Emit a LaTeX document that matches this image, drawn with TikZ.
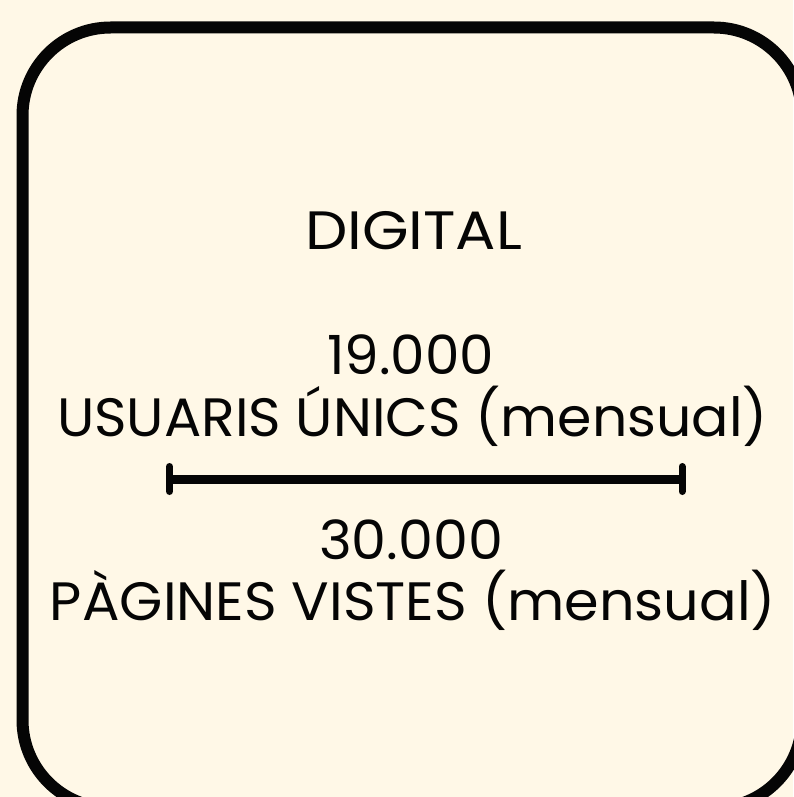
\documentclass[tikz,border=0pt]{standalone}
\usepackage{fontspec}
\setmainfont{Poppins}
\usepackage{graphicx}
\definecolor{bgcream}{HTML}{FFF8E7}
\definecolor{ink}{HTML}{050505}
\newlength\fitlen
\newcommand\fitw[2]{\settowidth\fitlen{#2}\pgfmathsetmacro\fitfac{#1/\the\fitlen}\scalebox{\fitfac}[1]{#2}}
\tikzset{
  label text/.style={anchor=base, inner sep=0pt, text=ink, font=\fontsize{54}{60}\selectfont},
  frame line/.style={draw=ink, line width=12pt, rounded corners=88pt},
  rule line/.style={draw=ink, line width=9pt},
  rule end/.style={draw=ink, line width=7pt, line cap=round}
}
\begin{document}
\begin{tikzpicture}[x=1pt,y=-1pt]
\useasboundingbox (0,0) rectangle (793,797);
\fill[bgcream] (0,0) rectangle (793,797);
\draw[frame line] (22.5,27.5) rectangle (802,808);
\node[label text] (title) at (413.5,249) {\fitw{217pt}{DIGITAL}};
\node[label text] (num1) at (410.5,374) {\fitw{167pt}{19.000}};
\node[label text] (lab1) at (412.5,436) {\fitw{711pt}{USUARIS ÚNICS (mensual)}};
\node[label text] (num2) at (411,559) {\fitw{184pt}{30.000}};
\node[label text] (lab2) at (413,620) {\fitw{726pt}{PÀGINES VISTES (mensual)}};
\coordinate (ruleL) at (169.5,479);
\coordinate (ruleR) at (682,479);
\draw[rule line] (ruleL) -- (ruleR);
\draw[rule end] ([yshift=-12.5pt]ruleL) -- ([yshift=12.5pt]ruleL);
\draw[rule end] ([yshift=-12.5pt]ruleR) -- ([yshift=12.5pt]ruleR);
\end{tikzpicture}
\end{document}
